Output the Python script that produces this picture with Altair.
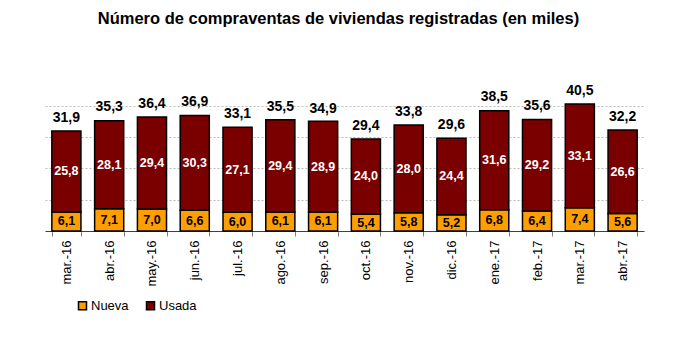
import altair as alt
import pandas as pd

months = ["mar.-16", "abr.-16", "may.-16", "jun.-16", "jul.-16", "ago.-16", "sep.-16",
          "oct.-16", "nov.-16", "dic.-16", "ene.-17", "feb.-17", "mar.-17", "abr.-17"]
nueva = [6.1, 7.1, 7.0, 6.6, 6.0, 6.1, 6.1, 5.4, 5.8, 5.2, 6.8, 6.4, 7.4, 5.6]
usada = [25.8, 28.1, 29.4, 30.3, 27.1, 29.4, 28.9, 24.0, 28.0, 24.4, 31.6, 29.2, 33.1, 26.6]
total = [31.9, 35.3, 36.4, 36.9, 33.1, 35.5, 34.9, 29.4, 33.8, 29.6, 38.5, 35.6, 40.5, 32.2]

series = ["Nueva", "Usada"]
colors = ["#FF9E00", "#7A0000"]

def fmt(v):
    return f"{v:.1f}".replace(".", ",")

rows = []
for m, n, u in zip(months, nueva, usada):
    rows.append({"mes": m, "tipo": "Nueva", "start": 0, "end": n, "label": fmt(n)})
    rows.append({"mes": m, "tipo": "Usada", "start": n, "end": n + u, "label": fmt(u)})
df = pd.DataFrame(rows)
df_tot = pd.DataFrame({"mes": months, "total": total, "label": [fmt(t) for t in total]})

FONT = "Liberation Sans"

xenc = alt.X("mes:N", sort=months, title=None,
             scale=alt.Scale(paddingInner=0.32, paddingOuter=0.16),
             axis=alt.Axis(labelAngle=270, labelAlign="right", labelBaseline="middle",
                           labelFontSize=13, labelFont=FONT, labelColor="#000000",
                           labelPadding=4, tickBand="extent", tickSize=5,
                           tickColor="#808080", domainColor="#404040", domainWidth=1,
                           grid=False))
yscale = alt.Scale(domain=[0, 45], nice=False)

bars = alt.Chart(df).mark_bar(stroke="#000000", strokeWidth=1.5).encode(
    x=xenc,
    y=alt.Y("start:Q", scale=yscale, title=None,
            axis=alt.Axis(values=[10, 20, 30, 40], labels=False, ticks=False, domain=False,
                          grid=True, gridColor="#BBBBBB", gridDash=[2, 2], gridWidth=1)),
    y2="end:Q",
    color=alt.Color("tipo:N", scale=alt.Scale(domain=series, range=colors),
                    legend=alt.Legend(title=None, orient="none", legendX=31, legendY=209,
                                      direction="horizontal", symbolType="square",
                                      symbolSize=64, symbolStrokeColor="#000000",
                                      symbolStrokeWidth=1.5, labelFontSize=13,
                                      labelFont=FONT, labelColor="#000000",
                                      labelOffset=2, columnPadding=14)),
)

inner = alt.Chart(df).transform_calculate(mid="(datum.start + datum.end) / 2").mark_text(
    fontSize=12.5, fontWeight="bold", font=FONT, baseline="middle"
).encode(
    x=alt.X("mes:N", sort=months),
    y=alt.Y("mid:Q", scale=yscale),
    text="label:N",
    color=alt.Color("tipo:N", scale=alt.Scale(domain=series, range=["#000000", "#FFFFFF"]),
                    legend=None),
)

tot = alt.Chart(df_tot).mark_text(
    fontSize=14, fontWeight="bold", font=FONT, baseline="bottom", dy=-6, color="#000000"
).encode(
    x=alt.X("mes:N", sort=months),
    y=alt.Y("total:Q", scale=yscale),
    text="label:N",
)

chart = alt.layer(bars, inner, tot).resolve_scale(color="independent").properties(
    width=599, height=141,
    title=alt.TitleParams("Número de compraventas de viviendas registradas (en miles)",
                          fontSize=16.5, font=FONT, fontWeight="bold", color="#000000",
                          anchor="middle", dx=-6, offset=57),
    autosize=alt.AutoSizeParams(type="none"),
    padding={"left": 37, "top": 82, "right": 30, "bottom": 100},
).configure_view(stroke=None)

chart.save("out.html", embed_options={"renderer": "svg", "actions": False})
